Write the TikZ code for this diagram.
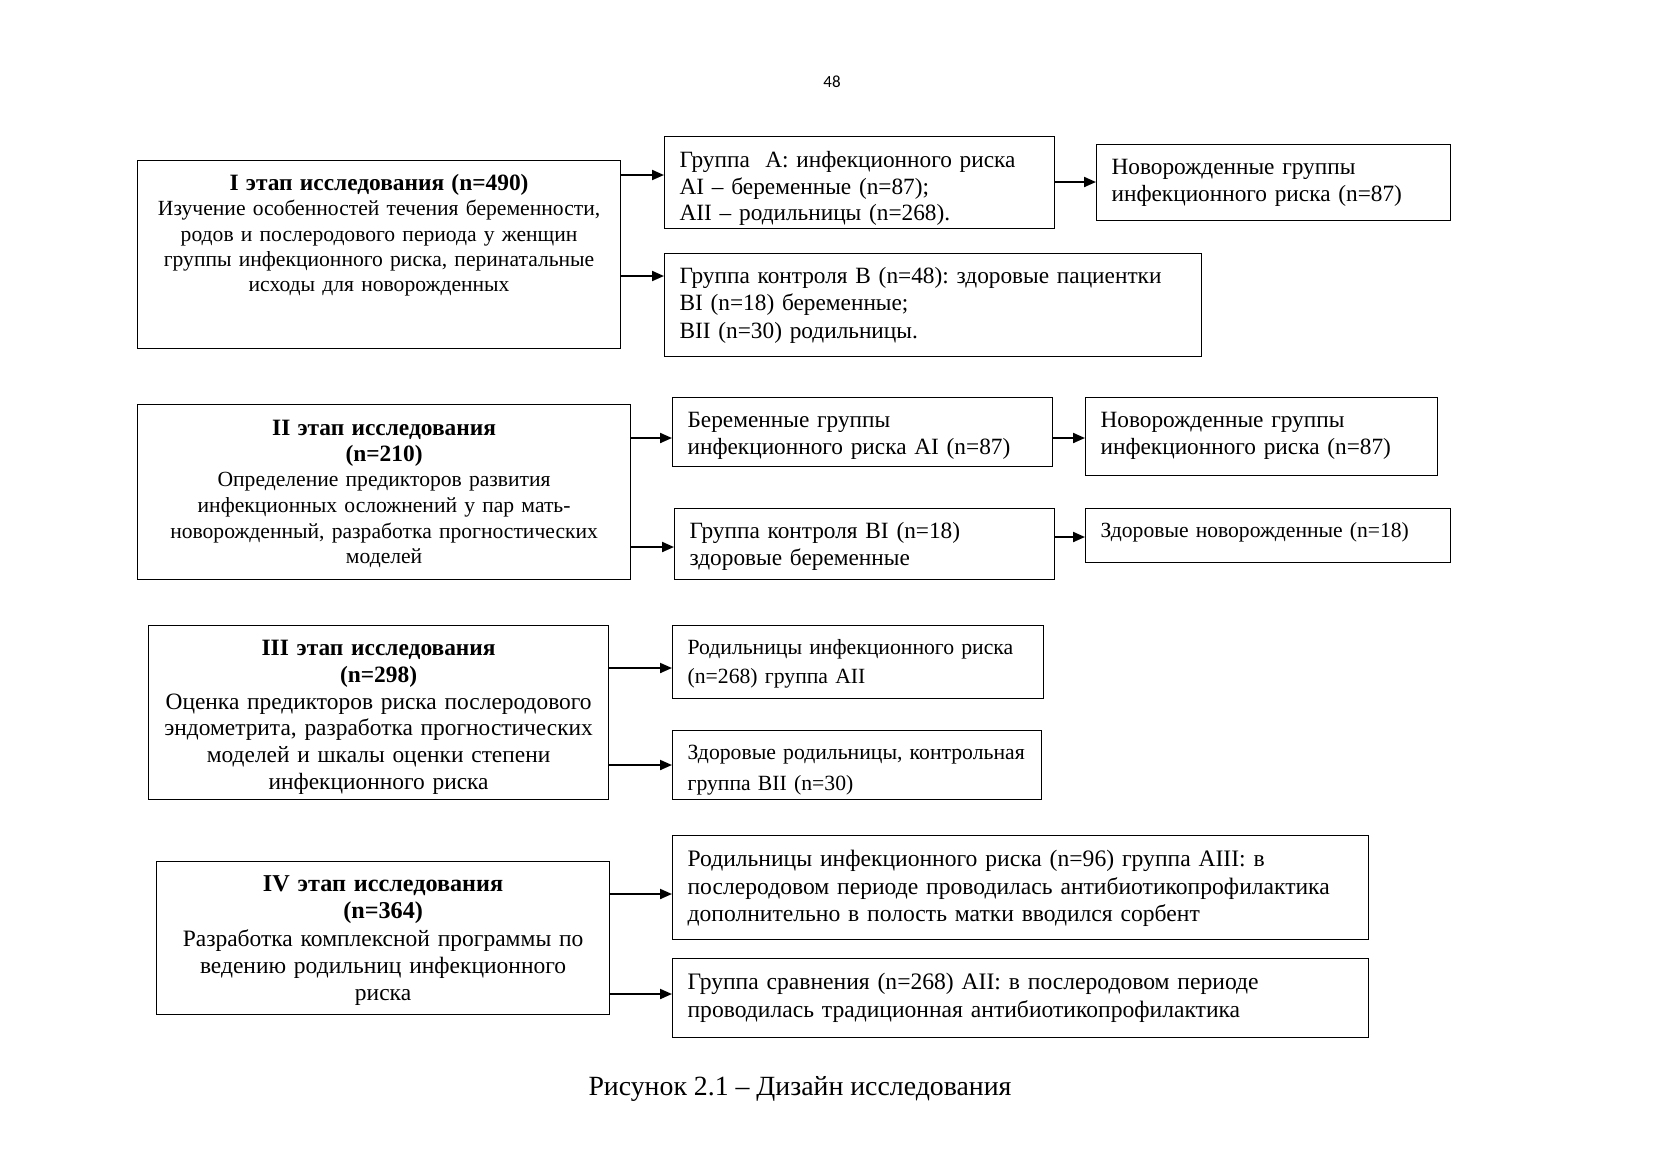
\documentclass[tikz,border=0pt]{standalone}
\usepackage{fontspec}
\setmainfont{Liberation Serif}
\newfontfamily\pagefont{Carlito}
\usetikzlibrary{arrows.meta}
\frenchspacing

\tikzset{
    stagebox/.style={draw, line width=0.6pt, anchor=north west, inner xsep=4pt, inner ysep=0pt, align=center},
    groupbox/.style={draw, line width=0.6pt, anchor=north west, inner xsep=7.5pt, inner ysep=0pt, align=left,
        font=\fontsize{11.65}{13.25}\selectfont},
    link/.style={line width=1pt, -{Triangle[length=6pt,width=5pt]}}
}

\begin{document}
\begin{tikzpicture}[x=0.5pt, y=-0.5pt]
    \useasboundingbox[fill=white] (0,0) rectangle (1662,1175);

    % Page number
    \node[font=\pagefont\fontsize{8.5}{9}\selectfont] (pnum) at (832,82) {48};

    % Stage I
    \node[stagebox, text width=233.5pt, text height=15pt, text depth=79pt,
          font=\fontsize{10.8}{12.6}\selectfont] (s1) at (137,160)
        {\textbf{\fontsize{11.7}{12.6}\selectfont I этап исследования (n=490)}\\
         Изучение особенностей течения беременности,\\
         родов и послеродового периода у женщин\\
         группы инфекционного риска, перинатальные\\
         исходы для новорожденных};
    \node[groupbox, text width=180pt, text height=15.5pt, text depth=30.5pt] (ga) at (664,136)
        {Группа~~А: инфекционного риска\\
         АI -- беременные (n=87);\\
         АII -- родильницы (n=268).};
    \node[groupbox, text width=162pt, text height=15pt, text depth=23pt,
          font=\fontsize{11.65}{13.6}\selectfont] (na) at (1096,144)
        {Новорожденные группы\\
         инфекционного риска (n=87)};
    \node[groupbox, text width=253.5pt, text height=15pt, text depth=36.5pt,
          font=\fontsize{11.65}{13.6}\selectfont] (gb) at (664,253)
        {Группа контроля В (n=48): здоровые пациентки\\
         ВI (n=18) беременные;\\
         ВII (n=30) родильницы.};

    % Stage II
    \node[stagebox, text width=238.5pt, text height=15.5pt, text depth=72pt,
          font=\fontsize{10.8}{12.8}\selectfont] (s2) at (137,404)
        {\textbf{\fontsize{11.7}{12.8}\selectfont II этап исследования}\\
         \textbf{\fontsize{11.7}{12.8}\selectfont (n=210)}\\
         Определение предикторов развития\\
         инфекционных осложнений у пар мать-\\
         новорожденный, разработка прогностических\\
         моделей};
    \node[groupbox, text width=175pt, text height=15pt, text depth=19.5pt] (ai) at (672,397)
        {Беременные группы\\
         инфекционного риска АI (n=87)};
    \node[groupbox, text width=161pt, text height=15pt, text depth=24pt] (nai) at (1085,397)
        {Новорожденные группы\\
         инфекционного риска (n=87)};
    \node[groupbox, text width=175pt, text height=15pt, text depth=20.5pt] (bi) at (674,508)
        {Группа контроля ВI (n=18)\\
         здоровые беременные};
    \node[groupbox, text width=167.5pt, text height=14.5pt, text depth=12.5pt,
          font=\fontsize{10.8}{13}\selectfont] (hn) at (1085,508)
        {Здоровые новорожденные (n=18)};

    % Stage III
    \node[stagebox, text width=222pt, text height=15pt, text depth=72pt,
          font=\fontsize{11.7}{13.35}\selectfont] (s3) at (148,625)
        {\textbf{III этап исследования}\\
         \textbf{(n=298)}\\
         Оценка предикторов риска послеродового\\
         эндометрита, разработка прогностических\\
         моделей и шкалы оценки степени\\
         инфекционного риска};
    \node[groupbox, text width=170.5pt, text height=14.5pt, text depth=22pt,
          font=\fontsize{10.85}{14.5}\selectfont] (aii) at (672,625)
        {Родильницы инфекционного риска\\
         (n=268) группа АII};
    \node[groupbox, text width=169.5pt, text height=14.5pt, text depth=20pt,
          font=\fontsize{10.85}{15.4}\selectfont] (bii) at (672,730)
        {\mbox{Здоровые родильницы, контрольная}\\
         группа ВII (n=30)};

    % Stage IV
    \node[stagebox, text width=218.5pt, text height=15pt, text depth=61.5pt,
          font=\fontsize{11.75}{13.65}\selectfont] (s4) at (156,861)
        {\textbf{\fontsize{12.1}{13.65}\selectfont IV этап исследования}\\
         \textbf{\fontsize{12.1}{13.65}\selectfont (n=364)}\\
         Разработка комплексной программы по\\
         ведению родильниц инфекционного\\
         риска};
    \node[groupbox, text width=333pt, text height=15.5pt, text depth=36.5pt,
          font=\fontsize{11.8}{13.8}\selectfont] (aiii) at (672,835)
        {Родильницы инфекционного риска (n=96) группа АIII: в\\
         послеродовом периоде проводилась антибиотикопрофилактика\\
         дополнительно в полость матки вводился сорбент};
    \node[groupbox, text width=333pt, text height=15.5pt, text depth=24pt,
          font=\fontsize{11.8}{13.8}\selectfont] (cmp) at (672,958)
        {Группа сравнения (n=268) АII: в послеродовом периоде\\
         проводилась традиционная антибиотикопрофилактика};

    % Connections
    \foreach \a/\b/\y in {s1/ga/175, s1/gb/276, ga/na/182,
                          s2/ai/438, s2/bi/547, ai/nai/438, bi/hn/537,
                          s3/aii/668, s3/bii/765, s4/aiii/894, s4/cmp/994} {
        \draw[link] (\a.east |- 0,\y) -- (\b.west |- 0,\y);
    }

    % Caption
    \node[font=\fontsize{13.9}{16}\selectfont] (cap) at (800,1089) {Рисунок 2.1 -- Дизайн исследования};
\end{tikzpicture}
\end{document}
